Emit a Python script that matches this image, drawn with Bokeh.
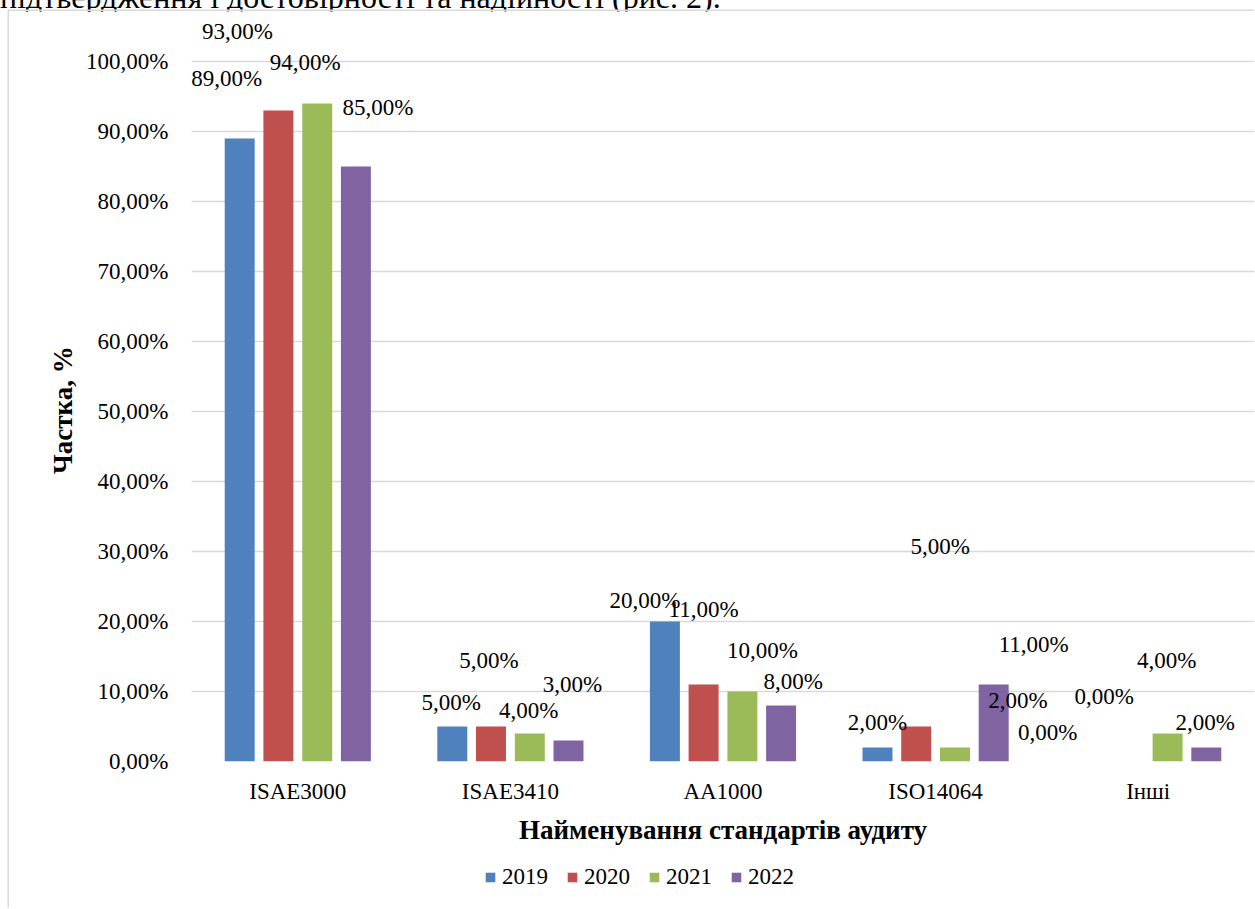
from bokeh.plotting import figure
from bokeh.models import (ColumnDataSource, FactorRange, Range1d, FixedTicker,
                          Legend, LegendItem, Div)
from bokeh.layouts import column
from bokeh.transform import dodge
from bokeh.core.properties import value
from bokeh.embed import file_html
from bokeh.resources import INLINE

# ---------------- data ----------------
categories = ["ISAE3000", "ISAE3410", "AA1000", "ISO14064", "Інші"]
years = ["2019", "2020", "2021", "2022"]
v2019 = [89, 5, 20, 2, 0]
v2020 = [93, 5, 11, 5, 0]
v2021 = [94, 4, 10, 2, 4]
v2022 = [85, 3, 8, 11, 2]
y_ticks = [0, 10, 20, 30, 40, 50, 60, 70, 80, 90, 100]
y_tick_labels = ["0,00%", "10,00%", "20,00%", "30,00%", "40,00%", "50,00%",
                 "60,00%", "70,00%", "80,00%", "90,00%", "100,00%"]
caption = "підтвердження і достовірності та надійності (рис. 2)."
x_title = "Найменування стандартів аудиту"
y_title = "Частка, %"

# ---------------- styles ----------------
colors = ["#4f81bd", "#c0504d", "#9bbb59", "#8064a2"]
dodges = [-0.2733, -0.0913, 0.0913, 0.2733]
bar_w = 0.141
# data-label pixel offsets (as placed in the original chart)
lab_dx = [[-13, -1, -20, 0, 14],
          [-41, -2, 0, 24, -81],
          [-12, -1, 20, 63, -1],
          [22, 4, 12, 40, -1]]
lab_dy = [[-60, -24, -21, -25, -65],
          [-79, -66, -75, -180, -29],
          [-41, -23, -41, -47, -73],
          [-59, -56, -24, -40, -25]]
FONT = "Liberation Serif"
FS = "23px"
TITLE_FS = "27px"
BORDER = "#d9d9d9"
Y_TITLE_SHIFT = "\u00a0" * 7   # nudges the rotated title downwards

series = [v2019, v2020, v2021, v2022]

# ---------------- main chart ----------------
p = figure(width=1246, height=839, output_backend="svg", toolbar_location=None,
           x_range=FactorRange(factors=categories, range_padding=0, factor_padding=0),
           y_range=Range1d(0, 750 / 7.0),
           min_border_left=182, min_border_right=1, min_border_top=0,
           min_border_bottom=89, margin=0)
p.outline_line_color = None
p.background_fill_color = "white"
p.border_fill_color = "white"

sources = []
for i, (yr, vals) in enumerate(zip(years, series)):
    src = ColumnDataSource(dict(
        cat=categories, val=vals,
        lbl=[("%.2f%%" % v).replace(".", ",") for v in vals],
        dx=lab_dx[i], dy=lab_dy[i]))
    sources.append(src)
    p.vbar(x=dodge("cat", dodges[i], range=p.x_range), top="val", width=bar_w,
           source=src, fill_color=colors[i], line_color=None)

for i, src in enumerate(sources):
    p.text(x=dodge("cat", dodges[i], range=p.x_range), y="val", text="lbl",
           x_offset="dx", y_offset="dy", source=src,
           text_align="center", text_baseline="middle",
           text_font=value(FONT), text_font_size=FS, text_color="black")

# axes
p.yaxis.ticker = FixedTicker(ticks=y_ticks)
p.yaxis.major_label_overrides = {t: l for t, l in zip(y_ticks, y_tick_labels)}
for ax in (p.xaxis[0], p.yaxis[0]):
    ax.axis_line_color = None
    ax.major_tick_line_color = None
    ax.minor_tick_line_color = None
    ax.major_tick_in = 0
    ax.major_tick_out = 0
    ax.major_label_text_font = FONT
    ax.major_label_text_font_size = FS
    ax.major_label_text_color = "black"
    ax.axis_label_text_font = FONT
    ax.axis_label_text_font_size = TITLE_FS
    ax.axis_label_text_font_style = "bold"
    ax.axis_label_text_color = "black"
p.yaxis.major_label_standoff = 23
p.yaxis.axis_label = y_title + Y_TITLE_SHIFT
p.yaxis.axis_label_standoff = 5
p.xaxis.major_label_standoff = 17
p.xaxis.axis_label = x_title
p.xaxis.axis_label_standoff = 8

p.xgrid.grid_line_color = None
p.ygrid.grid_line_color = BORDER
p.ygrid.grid_line_width = 1.3

# ---------------- legend strip ----------------
pl = figure(width=1246, height=59, output_backend="svg", toolbar_location=None,
            x_range=Range1d(0, 1), y_range=Range1d(0, 1),
            x_axis_location=None, y_axis_location=None,
            min_border_left=0, min_border_right=0, min_border_top=0,
            min_border_bottom=0, margin=0)
pl.outline_line_color = None
pl.background_fill_color = "white"
pl.border_fill_color = "white"
pl.xgrid.visible = False
pl.ygrid.visible = False
items = []
for i, yr in enumerate(years):
    # legend key only: a zero-height bar, nothing visible in the strip itself
    r = pl.vbar(x=[0.5], top=[0], bottom=[0], width=0.1,
                fill_color=colors[i], line_color=None)
    items.append(LegendItem(label=yr, renderers=[r]))
legend = Legend(items=items, orientation="horizontal", location=(293, 19),
                glyph_width=12, glyph_height=12, label_standoff=6, spacing=18,
                padding=0, margin=0, border_line_color=None, background_fill_alpha=0,
                label_text_font=FONT, label_text_font_size=FS, label_text_color="black")
pl.add_layout(legend, "center")

chart = column(p, pl, spacing=0, margin=(0, 0, 0, 9),
               styles={"box-shadow": "-1.5px -1.5px 0 0 " + BORDER})

# ---------------- cut-off caption above the chart ----------------
cap_div = Div(
    text=('<div style="position:relative; top:-19px; white-space:nowrap; '
          "font-family:'Liberation Serif'; font-size:32px; line-height:32px; "
          'color:black;">' + caption + '</div>'),
    width=1255, height=11, margin=0)

layout = column(cap_div, chart, spacing=0, margin=0)

open("out.html", "w").write(file_html(layout, INLINE))
